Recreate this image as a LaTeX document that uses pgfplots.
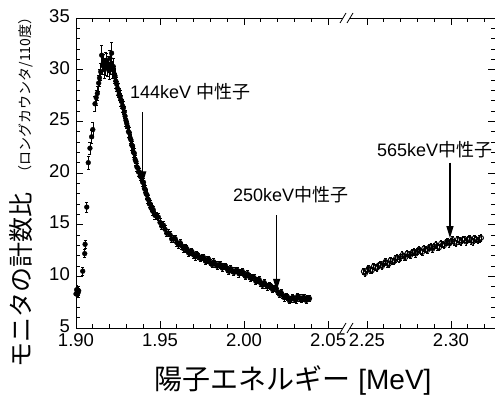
\documentclass[border=0pt]{standalone}
\usepackage{pgfplots}
\pgfplotsset{compat=1.18}
\usetikzlibrary{arrows.meta}
\usepackage{fontspec}
\setmainfont{Liberation Sans}
\newfontfamily\jp{Noto Sans CJK JP}
\begin{document}
\begin{tikzpicture}[x=1pt,y=1pt]
\path[use as bounding box] (0,0) rectangle (498,394);
\pgfplotsset{
  brk/.style={
    scale only axis, height=310pt, ymin=5, ymax=35,
    ytick={5,10,15,20,25,30,35},
    minor ytick={6,7,8,9,11,12,13,14,16,17,18,19,21,22,23,24,26,27,28,29,31,32,33,34},
    xtick pos=both,
    tick align=inside, major tick length=7pt, minor tick length=4pt,
    separate axis lines,
    x axis line style={line width=0.9pt, black},
    y axis line style={draw=none},
    tick style={line width=0.8pt, black},
    tick label style={font=\fontsize{18.5}{18.5}\selectfont},
    /pgf/number format/assume math mode=true,
    yticklabel style={inner sep=0pt, xshift=-6pt, yshift=2pt},
    xticklabel style={inner sep=0.5pt, yshift=-5pt,/pgf/number format/.cd,fixed,fixed zerofill,precision=2},
    clip=true,
  },
  datl/.style={only marks, mark=*, mark size=2.4pt, black, mark options={fill=black, draw=black},
    error bars/.cd, y dir=both, y explicit, error bar style={line width=0.6pt, black},
    error mark options={rotate=90, mark size=1.5pt, line width=0.6pt}},
  datr/.style={only marks, mark=o, mark size=2.3pt, black, mark options={line width=0.9pt, draw=black},
    error bars/.cd, y dir=both, y explicit, error bar style={line width=0.6pt, black},
    error mark options={rotate=90, mark size=1.2pt, line width=0.6pt}},
}
\begin{axis}[brk, at={(76pt,66pt)}, anchor=south west, width=267pt,
  xmin=1.90, xmax=2.0589, ytick pos=left,
  xtick={1.90,1.95,2.00,2.05},
  minor xtick={1.91,1.92,1.93,1.94,1.96,1.97,1.98,1.99,2.01,2.02,2.03,2.04}]
\draw[line width=0.9pt] (rel axis cs:0,0) -- (rel axis cs:0,1);
\addplot[datl] table[x=x,y=y,y error=e] {
x y e
1.9000 8.3 0.4
1.9004 8.7 0.4
1.9008 8.5 0.4
1.9012 8.4 0.4
1.9016 8.6 0.4
1.9040 10.5 0.4
1.9052 12.2 0.4
1.9054 13.1 0.4
1.9064 16.7 0.5
1.9073 21.0 0.6
1.9083 22.4 0.6
1.9093 23.5 0.6
1.9100 24.2 0.7
1.9113 26.7 0.7
1.9120 27.3 0.7
1.9127 27.7 0.7
1.9135 28.7 0.8
1.9140 29.2 0.8
1.9147 29.8 0.8
1.9153 31.4 1.0
1.9158 30.4 0.8
1.9163 30.7 0.8
1.9168 30.0 0.8
1.9173 30.3 0.8
1.9178 30.9 0.8
1.9183 30.8 0.8
1.9188 30.2 0.8
1.9192 30.5 0.8
1.9197 29.9 0.8
1.9202 31.1 0.8
1.9207 30.4 0.8
1.9212 31.6 1.0
1.9217 30.0 0.8
1.9222 30.3 0.8
1.9227 29.6 0.7
1.9232 29.4 0.7
1.9237 28.9 0.7
1.9242 28.6 0.7
1.9247 28.2 0.7
1.9252 28.0 0.7
1.9257 27.6 0.6
1.9262 27.4 0.6
1.9267 27.1 0.6
1.9272 26.9 0.6
1.9277 26.5 0.6
1.9282 26.3 0.6
1.9287 25.9 0.6
1.9292 25.5 0.6
1.9297 25.1 0.6
1.9302 24.8 0.5
1.9307 24.5 0.5
1.9312 24.0 0.5
1.9317 23.9 0.5
1.9322 23.4 0.5
1.9327 23.2 0.5
1.9332 22.7 0.5
1.9337 22.6 0.5
1.9342 22.0 0.5
1.9347 21.9 0.5
1.9352 21.3 0.4
1.9357 21.1 0.4
1.9362 20.6 0.4
1.9367 20.5 0.4
1.9372 20.1 0.4
1.9377 20.1 0.4
1.9382 19.7 0.4
1.9387 19.6 0.4
1.9392 19.7 0.4
1.9397 19.1 0.4
1.9402 19.1 0.4
1.9407 18.5 0.4
1.9412 18.4 0.4
1.9417 18.0 0.4
1.9422 17.9 0.4
1.9427 17.5 0.4
1.9432 17.4 0.4
1.9437 17.0 0.35
1.9442 17.0 0.35
1.9447 16.6 0.35
1.9452 16.7 0.35
1.9457 16.3 0.35
1.946 16.42 0.35
1.947 15.90 0.35
1.948 15.85 0.35
1.949 15.73 0.35
1.950 15.22 0.35
1.951 14.87 0.35
1.952 14.95 0.35
1.953 14.55 0.35
1.954 14.18 0.35
1.955 14.18 0.35
1.956 14.02 0.35
1.957 13.60 0.35
1.958 13.65 0.35
1.959 13.65 0.35
1.960 13.27 0.35
1.961 13.04 0.35
1.962 13.25 0.35
1.963 12.95 0.35
1.964 12.68 0.35
1.965 12.75 0.35
1.966 12.67 0.3
1.967 12.27 0.3
1.968 12.35 0.3
1.969 12.40 0.3
1.970 12.07 0.3
1.971 11.89 0.3
1.972 12.15 0.3
1.973 11.92 0.3
1.974 11.73 0.3
1.975 11.85 0.3
1.976 11.82 0.3
1.977 11.47 0.3
1.978 11.60 0.3
1.979 11.65 0.3
1.980 11.32 0.3
1.981 11.14 0.3
1.982 11.40 0.3
1.983 11.17 0.3
1.984 10.98 0.3
1.985 11.13 0.3
1.986 11.12 0.3
1.987 10.80 0.3
1.988 10.95 0.3
1.989 11.00 0.3
1.990 10.67 0.3
1.991 10.49 0.3
1.992 10.75 0.3
1.993 10.55 0.3
1.994 10.38 0.3
1.995 10.55 0.3
1.996 10.57 0.3
1.997 10.25 0.3
1.998 10.40 0.3
1.999 10.48 0.3
2.000 10.17 0.3
2.001 9.99 0.3
2.002 10.25 0.3
2.003 10.02 0.3
2.004 9.83 0.3
2.005 9.93 0.3
2.006 9.87 0.3
2.007 9.52 0.3
2.008 9.65 0.3
2.009 9.68 0.3
2.010 9.32 0.3
2.011 9.14 0.3
2.012 9.40 0.3
2.013 9.17 0.3
2.014 8.98 0.3
2.015 9.10 0.3
2.016 9.07 0.3
2.017 8.72 0.3
2.018 8.85 0.3
2.019 8.88 0.3
2.020 8.52 0.3
2.021 8.27 0.3
2.022 8.45 0.3
2.023 8.17 0.3
2.024 7.93 0.3
2.025 8.03 0.3
2.026 7.97 0.3
2.027 7.65 0.3
2.028 7.80 0.3
2.029 7.98 0.3
2.030 7.77 0.3
2.031 7.72 0.3
2.032 8.10 0.3
2.033 7.92 0.3
2.034 7.78 0.3
2.035 7.93 0.3
2.036 7.92 0.3
2.037 7.67 0.3
2.038 7.90 0.3
2.039 7.85 0.3
};
\draw[line width=1.2pt, -{Triangle[length=12pt,width=7pt]}] (axis cs:1.9397,25.9) -- (axis cs:1.9397,19.0);
\draw[line width=1.2pt, -{Triangle[length=12pt,width=7pt]}] (axis cs:2.0194,15.9) -- (axis cs:2.0194,8.6);
\end{axis}
\begin{axis}[brk, at={(350pt,66pt)}, anchor=south west, width=145pt,
  xmin=2.2399, xmax=2.3262, ytick pos=right,
  xtick={2.25,2.30},
  minor xtick={2.26,2.27,2.28,2.29,2.31,2.32},
  yticklabels={}]
\draw[line width=0.9pt] (rel axis cs:1,0) -- (rel axis cs:1,1);
\addplot[datr] table[x=x,y=y,y error=e] {
x y e
2.248 10.47 0.3
2.249 10.30 0.3
2.250 10.57 0.3
2.251 10.78 0.3
2.252 10.60 0.3
2.253 10.57 0.3
2.254 10.97 0.3
2.255 10.88 0.3
2.256 10.82 0.3
2.257 11.08 0.3
2.258 11.18 0.3
2.259 10.97 0.3
2.260 11.23 0.3
2.261 11.42 0.3
2.262 11.22 0.3
2.263 11.18 0.3
2.264 11.57 0.3
2.265 11.49 0.3
2.266 11.43 0.3
2.267 11.70 0.3
2.268 11.81 0.3
2.269 11.61 0.3
2.270 11.88 0.3
2.271 12.08 0.3
2.272 11.89 0.3
2.273 11.85 0.3
2.274 12.23 0.3
2.275 12.13 0.3
2.276 12.06 0.3
2.277 12.31 0.3
2.278 12.40 0.3
2.279 12.18 0.3
2.280 12.43 0.3
2.281 12.61 0.3
2.282 12.40 0.3
2.283 12.35 0.3
2.284 12.72 0.3
2.285 12.62 0.3
2.286 12.54 0.3
2.287 12.79 0.3
2.288 12.87 0.3
2.289 12.65 0.3
2.290 12.89 0.3
2.291 13.06 0.3
2.292 12.85 0.3
2.293 12.79 0.3
2.294 13.17 0.3
2.295 13.07 0.3
2.296 13.00 0.3
2.297 13.26 0.3
2.298 13.36 0.3
2.299 13.15 0.3
2.300 13.38 0.3
2.301 13.54 0.3
2.302 13.30 0.3
2.303 13.22 0.3
2.304 13.57 0.3
2.305 13.44 0.3
2.306 13.34 0.3
2.307 13.56 0.3
2.308 13.62 0.3
2.309 13.35 0.3
2.310 13.55 0.3
2.311 13.68 0.3
2.312 13.44 0.3
2.313 13.34 0.3
2.314 13.70 0.3
2.315 13.55 0.3
2.316 13.46 0.3
2.317 13.63 0.3
2.318 13.72 0.3
};
\draw[line width=1.2pt, -{Triangle[length=12pt,width=7pt]}] (axis cs:2.2994,21.0) -- (axis cs:2.2994,13.7);
\end{axis}
% axis break marks
\draw[line width=0.8pt] (340,61) -- (346,71) (347,61) -- (353,71);
\draw[line width=0.8pt] (340,371) -- (346,381) (347,371) -- (353,381);
% labels
\node[rotate=90, font=\jp\fontsize{25}{25}\selectfont] at (21,114) {モニタの計数比};
\node[rotate=90, font=\jp\fontsize{14}{14}\selectfont] at (26,299) {（ロングカウンタ/110度）};
\node[font=\fontsize{28}{28}\selectfont] at (293,14) {{\jp 陽子エネルギー} [MeV]};
\node[anchor=west, inner sep=0pt, font=\fontsize{18}{18}\selectfont] at (130,302) {144keV {\jp 中性子}};
\node[anchor=west, inner sep=0pt, font=\fontsize{18}{18}\selectfont] at (233,199) {250keV{\jp 中性子}};
\node[anchor=west, inner sep=0pt, font=\fontsize{18}{18}\selectfont] at (377,244) {565keV{\jp 中性子}};
\end{tikzpicture}
\end{document}
